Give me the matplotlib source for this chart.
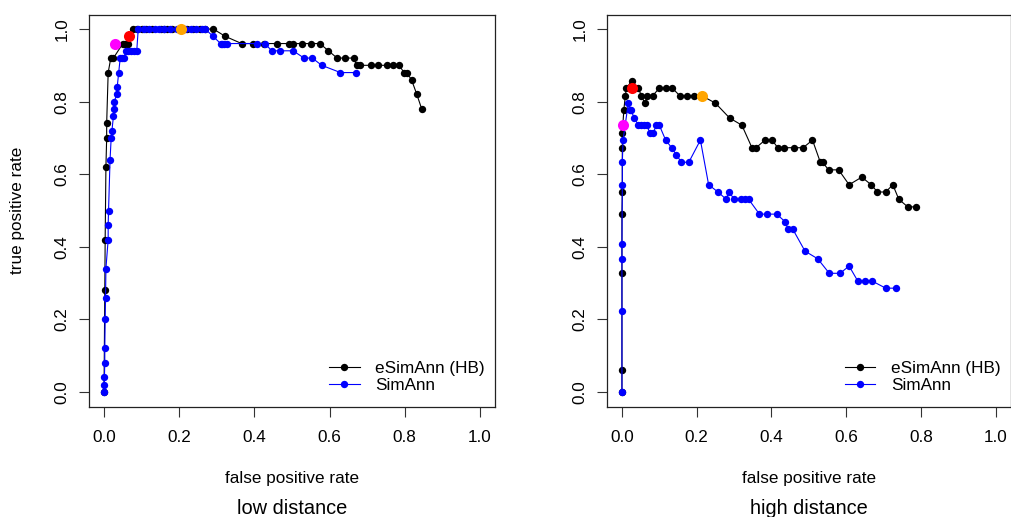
import matplotlib
matplotlib.use("Agg")
import matplotlib.pyplot as plt

plt.rcParams['font.family'] = ['Liberation Sans', 'DejaVu Sans']

# ---- low distance ----
low_esim_fpr = [0, 0.002, 0.003, 0.005, 0.007, 0.007, 0.011, 0.018, 0.025, 0.05, 0.057, 0.064,
                0.066, 0.078, 0.089, 0.100, 0.112, 0.128, 0.152, 0.160, 0.168, 0.180, 0.204,
                0.220, 0.236, 0.255, 0.269, 0.291, 0.322, 0.366, 0.395, 0.426, 0.461, 0.493,
                0.503, 0.527, 0.551, 0.574, 0.597, 0.620, 0.642, 0.664, 0.672, 0.681, 0.709,
                0.728, 0.753, 0.769, 0.785, 0.798, 0.805, 0.818, 0.832, 0.845]
low_esim_tpr = [0, 0.28, 0.42, 0.62, 0.70, 0.74, 0.88, 0.92, 0.92, 0.96, 0.96, 0.96,
                0.98, 1.0, 1.0, 1.0, 1.0, 1.0, 1.0, 1.0, 1.0, 1.0, 1.0,
                1.0, 1.0, 1.0, 1.0, 1.0, 0.98, 0.96, 0.96, 0.96, 0.96, 0.96,
                0.96, 0.96, 0.96, 0.96, 0.94, 0.92, 0.92, 0.92, 0.90, 0.90, 0.90,
                0.90, 0.90, 0.90, 0.90, 0.88, 0.88, 0.86, 0.82, 0.78]

low_sim_fpr = [0, 0, 0.001, 0.002, 0.002, 0.003, 0.004, 0.005, 0.011, 0.011, 0.012, 0.016,
               0.019, 0.021, 0.025, 0.027, 0.027, 0.034, 0.035, 0.039, 0.043, 0.048, 0.053,
               0.058, 0.065, 0.073, 0.08, 0.087, 0.091, 0.105, 0.12, 0.135, 0.145, 0.16,
               0.175, 0.195, 0.215, 0.23, 0.245, 0.26, 0.269, 0.29, 0.31, 0.315, 0.32, 0.326,
               0.406, 0.428, 0.446, 0.468, 0.503, 0.532, 0.554, 0.579, 0.629, 0.669]
low_sim_tpr = [0, 0.02, 0.04, 0.08, 0.12, 0.20, 0.26, 0.34, 0.42, 0.46, 0.50, 0.64,
               0.70, 0.72, 0.76, 0.78, 0.80, 0.82, 0.84, 0.88, 0.92, 0.92, 0.92,
               0.94, 0.94, 0.94, 0.94, 0.94, 1.0, 1.0, 1.0, 1.0, 1.0, 1.0,
               1.0, 1.0, 1.0, 1.0, 1.0, 1.0, 1.0, 0.98, 0.96, 0.96, 0.96, 0.96,
               0.96, 0.96, 0.94, 0.94, 0.94, 0.92, 0.92, 0.90, 0.88, 0.88]

# highlighted points (magenta, red, orange)
low_marks_fpr = [0.029, 0.066, 0.204]
low_marks_tpr = [0.96, 0.98, 1.0]

# ---- high distance ----
high_esim_fpr = [0, 0, 0, 0, 0.001, 0.001, 0.001, 0.005, 0.009, 0.012, 0.026, 0.028,
                 0.044, 0.052, 0.061, 0.068, 0.082, 0.1, 0.117, 0.135, 0.155, 0.174, 0.193,
                 0.214, 0.25, 0.288, 0.321, 0.348, 0.359, 0.383, 0.402, 0.417, 0.433, 0.461,
                 0.485, 0.51, 0.531, 0.537, 0.553, 0.58, 0.608, 0.642, 0.667, 0.684, 0.706,
                 0.725, 0.741, 0.765, 0.786]
high_esim_tpr = [0, 0.061, 0.327, 0.49, 0.551, 0.673, 0.714, 0.776, 0.816, 0.837, 0.857, 0.837,
                 0.837, 0.816, 0.796, 0.816, 0.816, 0.837, 0.837, 0.837, 0.816, 0.816, 0.816,
                 0.816, 0.796, 0.755, 0.735, 0.673, 0.673, 0.694, 0.694, 0.673, 0.673, 0.673,
                 0.673, 0.694, 0.633, 0.633, 0.612, 0.612, 0.571, 0.592, 0.571, 0.551, 0.551,
                 0.571, 0.531, 0.51, 0.51]

high_sim_fpr = [0, 0, 0, 0, 0.001, 0.001, 0.003, 0.017, 0.021, 0.024, 0.033, 0.044, 0.05,
                0.058, 0.066, 0.075, 0.084, 0.092, 0.1, 0.117, 0.133, 0.146, 0.159, 0.179,
                0.21, 0.232, 0.257, 0.279, 0.286, 0.301, 0.319, 0.33, 0.339, 0.368, 0.389,
                0.414, 0.437, 0.444, 0.457, 0.49, 0.524, 0.555, 0.584, 0.608, 0.631, 0.651,
                0.669, 0.706, 0.734]
high_sim_tpr = [0, 0.224, 0.367, 0.408, 0.571, 0.633, 0.694, 0.796, 0.776, 0.776, 0.755, 0.735, 0.735,
                0.735, 0.735, 0.714, 0.714, 0.735, 0.735, 0.694, 0.673, 0.653, 0.633, 0.633,
                0.694, 0.571, 0.551, 0.531, 0.551, 0.531, 0.531, 0.531, 0.531, 0.49, 0.49,
                0.49, 0.469, 0.449, 0.449, 0.388, 0.367, 0.327, 0.327, 0.347, 0.306, 0.306,
                0.306, 0.286, 0.286]

high_marks_fpr = [0.004, 0.028, 0.214]
high_marks_tpr = [0.735, 0.837, 0.816]

mark_colors = ['#FF00FF', '#FF0000', '#FFA500']
ticks = [0.0, 0.2, 0.4, 0.6, 0.8, 1.0]
tick_labels = ['0.0', '0.2', '0.4', '0.6', '0.8', '1.0']
fs = 12.3

W, H = 1011, 517
fig = plt.figure(figsize=(W / 100, H / 100), dpi=100)

def make_axes(left_px, right_px):
    top_px, bottom_px = 14.5, 406.5
    return fig.add_axes([left_px / W, 1 - bottom_px / H,
                         (right_px - left_px) / W, (bottom_px - top_px) / H])

def draw(ax, e_x, e_y, s_x, s_y, m_x, m_y, sub):
    ax.plot(e_x, e_y, color='black', lw=0.8, marker='o', ms=5.3, mew=0,
            label='eSimAnn (HB)')
    ax.plot(s_x, s_y, color='#0000FF', lw=0.8, marker='o', ms=5.3, mew=0,
            label='SimAnn')
    for x, y, c in zip(m_x, m_y, mark_colors):
        ax.plot([x], [y], 'o', color=c, ms=8, mew=0, zorder=5)
    ax.set_xlim(-0.04, 1.04)
    ax.set_ylim(-0.04, 1.04)
    ax.set_xticks(ticks)
    ax.set_xticklabels(tick_labels, fontsize=fs)
    ax.set_yticks(ticks)
    ax.set_yticklabels(tick_labels, fontsize=fs, rotation=90, va='center')
    ax.tick_params(axis='both', direction='out', length=7.2, width=0.8, color='#333333')
    ax.tick_params(axis='x', pad=10.0)
    ax.tick_params(axis='y', pad=7.0)
    for sp in ax.spines.values():
        sp.set_linewidth(0.9)
        sp.set_color('#222222')
    ax.legend(loc='lower right', bbox_to_anchor=(0.975, 0.035), frameon=False,
              fontsize=fs, handlelength=1.8, handletextpad=0.9, labelspacing=0.12,
              borderaxespad=0, borderpad=0)
    pos = ax.get_position()
    cx = (pos.x0 + pos.x1) / 2
    fig.text(cx, 1 - 479 / H, 'false positive rate', ha='center', va='center', fontsize=fs)
    fig.text(cx, 1 - 508 / H, sub, ha='center', va='center', fontsize=14.4)

ax1 = make_axes(89, 495)
draw(ax1, low_esim_fpr, low_esim_tpr, low_sim_fpr, low_sim_tpr,
     low_marks_fpr, low_marks_tpr, 'low distance')

ax2 = make_axes(607, 1010.5)
draw(ax2, high_esim_fpr, high_esim_tpr, high_sim_fpr, high_sim_tpr,
     high_marks_fpr, high_marks_tpr, 'high distance')

fig.text(18 / W, 1 - 210.5 / H, 'true positive rate', rotation=90,
         ha='center', va='center', fontsize=fs)

fig.savefig('out.png', dpi=100)
